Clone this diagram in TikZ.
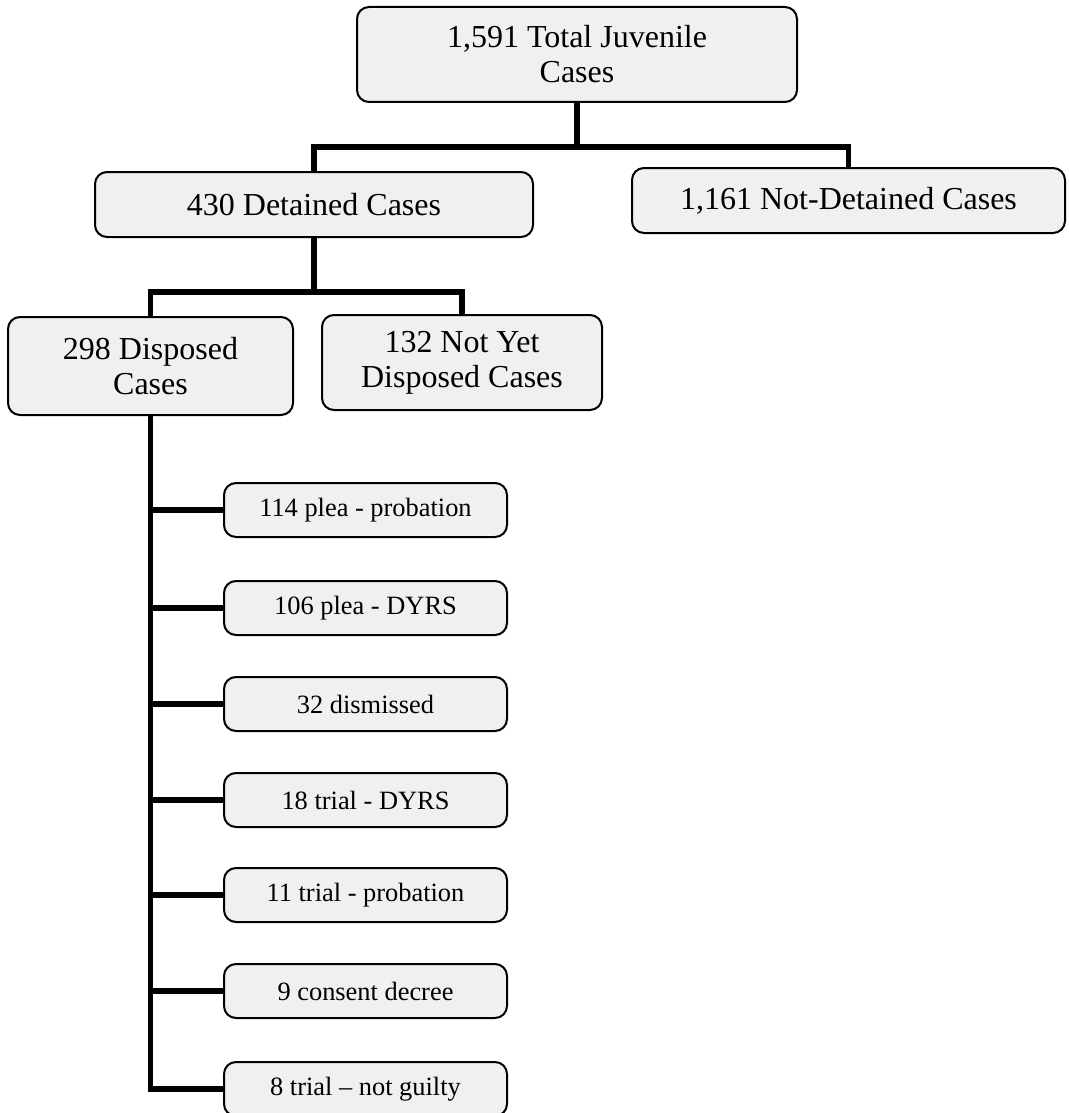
\documentclass[tikz,border=0pt]{standalone}
\usepackage{fontspec}
\setmainfont{Liberation Serif}
\begin{document}
\begin{tikzpicture}[x=0.5pt,y=-0.5pt,
  box/.style={draw=black, line width=1pt, rounded corners=6pt, fill=black!6, inner sep=0pt, align=center, text=black},
  big/.style={box, font=\fontsize{16}{17.5}\selectfont},
  small/.style={box, font=\fontsize{13.2}{15}\selectfont, minimum width=141.5pt, minimum height=27pt},
  conn/.style={draw=black, line width=2.6pt, line join=miter}]
\fill[white] (0,0) rectangle (1069,1113);
\useasboundingbox (0,0) rectangle (1069,1113);

\node[big, minimum width=220pt, minimum height=47.5pt] (b1) at (577,54.5) {1,591 Total Juvenile\\Cases};
\node[big, minimum width=219pt, minimum height=32.5pt] (b2) at (314,204.5) {430 Detained Cases};
\node[big, minimum width=216.5pt, minimum height=32.5pt] (b3) at (848.5,200.5) {1,161 Not-Detained Cases};
\node[big, minimum width=142.5pt, minimum height=49pt] (b4) at (150.5,366) {298 Disposed\\Cases};
\node[big, minimum width=140pt, minimum height=47.5pt] (b5) at (462,362.5) {132 Not Yet\\Disposed Cases};

\node[small] (s1) at (365.5,510) {114 plea - probation};
\node[small] (s2) at (365.5,608) {106 plea - DYRS};
\node[small] (s3) at (365.5,704) {32 dismissed};
\node[small] (s4) at (365.5,800) {18 trial - DYRS};
\node[small] (s5) at (365.5,895) {11 trial - probation};
\node[small] (s6) at (365.5,991) {9 consent decree};
\node[small] (s7) at (365.5,1089) {8 trial -- not guilty};

\coordinate (j1) at (577,147);
\coordinate (j2) at (314,292);

\draw[conn] (b1.south) -- (j1);
\draw[conn] (b2.north) -- (b2.north |- j1) -- (b3.north |- j1) -- (b3.north);
\draw[conn] (b2.south) -- (j2);
\draw[conn] (b4.north) -- (b4.north |- j2) -- (b5.north |- j2) -- (b5.north);

\draw[conn] (b4.south) |- (s7.west);
\foreach \s in {s1,s2,s3,s4,s5,s6}
  \draw[conn] (b4.south |- \s.west) -- (\s.west);
\end{tikzpicture}
\end{document}
